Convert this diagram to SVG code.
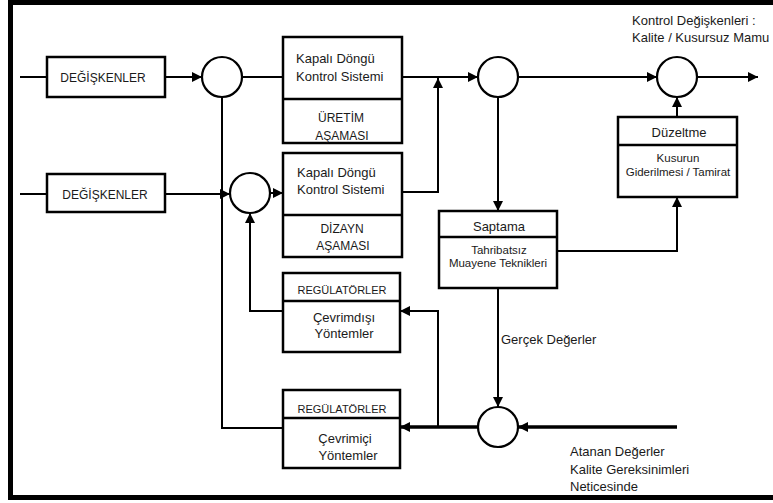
<svg xmlns="http://www.w3.org/2000/svg" width="773" height="503" viewBox="0 0 773 503">
<style>
.bx{fill:#fff;stroke:#000;stroke-width:2.5}
.dv{stroke:#000;stroke-width:2.5}
.cir{fill:#fff;stroke:#000;stroke-width:2.2}
.ln{fill:none;stroke:#000;stroke-width:2}
.thk{fill:none;stroke:#000;stroke-width:3.5}
text{font-family:"Liberation Sans",Arial,sans-serif;fill:#1a1a1a}
.t12{font-size:12px}
.t13{font-size:13px}
.t11{font-size:11px}
.t115{font-size:11.5px}
.m{text-anchor:middle}
</style>
<defs>
<marker id="ar" markerUnits="userSpaceOnUse" markerWidth="10" markerHeight="10" refX="10" refY="5" orient="auto">
<path d="M0,0 L10,5 L0,10 z" fill="#000"/>
</marker>
</defs>
<rect x="0" y="0" width="773" height="503" fill="#fff"/>
<rect x="10.5" y="2.5" width="790" height="495" fill="none" stroke="#000" stroke-width="5"/>

<g id="connectors">
<path class="ln" d="M20,77 H47"/>
<path class="ln" d="M165,77 H202" marker-end="url(#ar)"/>
<path class="ln" d="M242,77 H283"/>
<path class="ln" d="M20,194 H47"/>
<path class="ln" d="M165,194 H230" marker-end="url(#ar)"/>
<path class="ln" d="M270,193 H283" marker-end="url(#ar)"/>
<path class="ln" d="M222,97 V428 H283"/>
<path class="ln" d="M283,311 H250 V213" marker-end="url(#ar)"/>
<path class="ln" d="M402,77 H478" marker-end="url(#ar)"/>
<path class="ln" d="M402,192 H438 V78" marker-end="url(#ar)"/>
<path class="ln" d="M518,77 H657" marker-end="url(#ar)"/>
<path class="ln" d="M697,77 H758" marker-end="url(#ar)"/>
<path class="ln" d="M498,97 V211" marker-end="url(#ar)"/>
<path class="ln" d="M557,251 H677 V197" marker-end="url(#ar)"/>
<path class="ln" d="M677,117 V97" marker-end="url(#ar)"/>
<path class="ln" d="M498,289 V407" marker-end="url(#ar)"/>
<path class="thk" d="M677,427 H518" marker-end="url(#ar)"/>
<path class="thk" d="M478,427 H400" marker-end="url(#ar)"/>
<path class="ln" d="M438,427 V311 H400" marker-end="url(#ar)"/>
</g>

<g id="degiskenler1">
<rect class="bx" x="47" y="57" width="118" height="40"/>
<text class="t12 m" x="103" y="81.5">DEĞİŞKENLER</text>
</g>
<g id="degiskenler2">
<rect class="bx" x="47" y="174" width="118" height="38"/>
<text class="t12 m" x="105" y="198.5">DEĞİŞKENLER</text>
</g>

<g id="circle1"><circle class="cir" cx="222" cy="77" r="20"/></g>
<g id="circle2"><circle class="cir" cx="250" cy="193" r="20"/></g>
<g id="circle3"><circle class="cir" cx="498" cy="77" r="20"/></g>
<g id="circle4"><circle class="cir" cx="677" cy="77" r="20"/></g>
<g id="circle5"><circle class="cir" cx="498" cy="427" r="20"/></g>

<g id="uretim">
<rect class="bx" x="283" y="37" width="119" height="106"/>
<line class="dv" x1="283" y1="99" x2="402" y2="99"/>
<text class="t13" x="296" y="62.5">Kapalı Döngü</text>
<text class="t13" x="296" y="80.5">Kontrol Sistemi</text>
<text class="t12 m" x="341" y="121.5">ÜRETİM</text>
<text class="t12 m" x="342" y="139.5">AŞAMASI</text>
</g>

<g id="dizayn">
<rect class="bx" x="283" y="153" width="119" height="104"/>
<line class="dv" x1="283" y1="215" x2="402" y2="215"/>
<text class="t13" x="297" y="176.5">Kapalı Döngü</text>
<text class="t13" x="297" y="193.5">Kontrol Sistemi</text>
<text class="t12 m" x="342" y="232.5">DİZAYN</text>
<text class="t12 m" x="343" y="249.5">AŞAMASI</text>
</g>

<g id="regulator1">
<rect class="bx" x="283" y="273" width="117" height="79"/>
<line class="dv" x1="283" y1="301" x2="400" y2="301"/>
<text class="t11 m" x="342" y="294">REGÜLATÖRLER</text>
<text class="t13 m" x="344" y="321.5">Çevrimdışı</text>
<text class="t13 m" x="344" y="337.5">Yöntemler</text>
</g>

<g id="regulator2">
<rect class="bx" x="283" y="390" width="117" height="78"/>
<line class="dv" x1="283" y1="418" x2="400" y2="418"/>
<text class="t11 m" x="342" y="413">REGÜLATÖRLER</text>
<text class="t13 m" x="345" y="442.5">Çevrimiçi</text>
<text class="t13 m" x="348" y="459.5">Yöntemler</text>
</g>

<g id="saptama">
<rect class="bx" x="439" y="211" width="118" height="77"/>
<line class="dv" x1="439" y1="237" x2="557" y2="237"/>
<text class="t13 m" x="499" y="230.5">Saptama</text>
<text class="t115 m" x="499" y="254">Tahribatsız</text>
<text class="t115 m" x="498" y="267">Muayene Teknikleri</text>
</g>

<g id="duzeltme">
<rect class="bx" x="618" y="117" width="119" height="80"/>
<line class="dv" x1="618" y1="145" x2="737" y2="145"/>
<text class="t13 m" x="679" y="136.5">Düzeltme</text>
<text class="t115 m" x="678" y="162">Kusurun</text>
<text class="t115 m" x="678" y="176">Giderilmesi / Tamirat</text>
</g>

<g id="labels">
<text class="t13" x="632" y="24.5">Kontrol Değişkenleri :</text>
<text class="t13" x="632" y="41.5">Kalite / Kusursuz Mamu</text>
<text class="t13" x="501" y="344">Gerçek Değerler</text>
<text class="t13" x="570" y="456">Atanan Değerler</text>
<text class="t13" x="570" y="474">Kalite Gereksinimleri</text>
<text class="t13" x="570" y="491">Neticesinde</text>
</g>
</svg>
